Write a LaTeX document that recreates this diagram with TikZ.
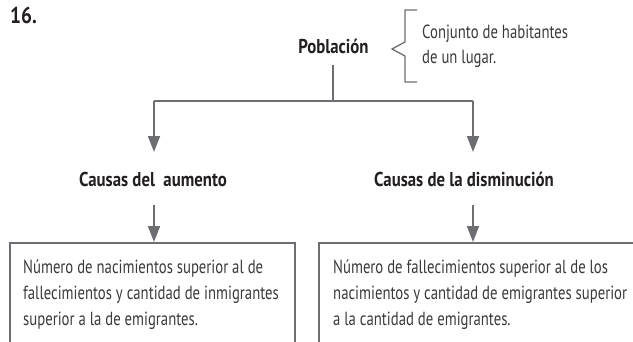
\documentclass[tikz,border=0pt]{standalone}
\usepackage{fontspec}
\setmainfont{PT Sans}[UprightFeatures={FakeStretch=0.775},BoldFeatures={FakeStretch=0.84}]
\usetikzlibrary{arrows.meta}
\definecolor{linegray}{HTML}{6D6E71}
\definecolor{boldtxt}{HTML}{231F20}
\definecolor{bodytxt}{HTML}{3A3A3A}
\begin{document}
\begin{tikzpicture}[x=1pt,y=-1pt,
  conn/.style={draw=linegray,line width=1.8pt},
  arr/.style={conn,-{Triangle[width=12pt,length=16pt]}},
  bracketline/.style={draw=linegray,line width=1.3pt},
  titletext/.style={font=\bfseries\fontsize{20}{24}\selectfont,text=boldtxt,inner sep=0pt,anchor=base},
  bodytext/.style={font=\fontsize{19}{26}\selectfont,text=bodytxt,inner sep=0pt,anchor=base west},
  boxshape/.style={draw=linegray,line width=1.8pt,inner sep=0pt,anchor=north west,minimum height=140pt}]
\useasboundingbox (0,0) rectangle (633,341);
\clip (0,0) rectangle (633,341);
% number
\node[font=\bfseries\fontsize{23}{26}\selectfont,text=boldtxt,inner sep=0pt,anchor=base west] (num) at (10,23) {16.};
% top concept
\node[titletext] (pob) at (333.5,53) {Población};
\node[bodytext] (def) at (422,38) {\vtop{\baselineskip=25pt\hbox{Conjunto de habitantes}\hbox{de un lugar.}}};
\draw[bracketline] (417,10) -- (405,10) -- (405,42) -- (392,49) -- (405,56) -- (405,82) -- (417,82);
% branching
\coordinate (pobdown) at (333,65);
\coordinate (split) at (333,101);
\coordinate (leftcorner) at (154,101);
\coordinate (rightcorner) at (473,101);
\node[titletext] (causasA) at (153,186) {Causas del\ \ aumento};
\node[titletext] (causasD) at (464,186) {Causas de la disminución};
\draw[conn] (pobdown) -- (split);
\draw[conn] (leftcorner) -- (rightcorner);
\draw[arr] (leftcorner) -- (leftcorner |- 0,152);
\draw[arr] (rightcorner) -- (rightcorner |- 0,152);
% boxes
\node[boxshape,minimum width=285pt] (boxA) at (9,242) {};
\node[boxshape,minimum width=340pt] (boxD) at (318,242) {};
\coordinate (arrA) at (154,205);
\coordinate (arrD) at (473,205);
\draw[arr] (arrA) -- (arrA |- boxA.north);
\draw[arr] (arrD) -- (arrD |- boxD.north);
\node[bodytext] (txtA) at (23,273) {\vtop{\baselineskip=26pt\hbox{Número de nacimientos superior al de}\hbox{fallecimientos y cantidad de inmigrantes}\hbox{superior a la de emigrantes.}}};
\node[bodytext] (txtD) at (333,273) {\vtop{\baselineskip=26pt\hbox{Número de fallecimientos superior al de los}\hbox{nacimientos y cantidad de emigrantes superior}\hbox{a la cantidad de emigrantes.}}};
\end{tikzpicture}
\end{document}
